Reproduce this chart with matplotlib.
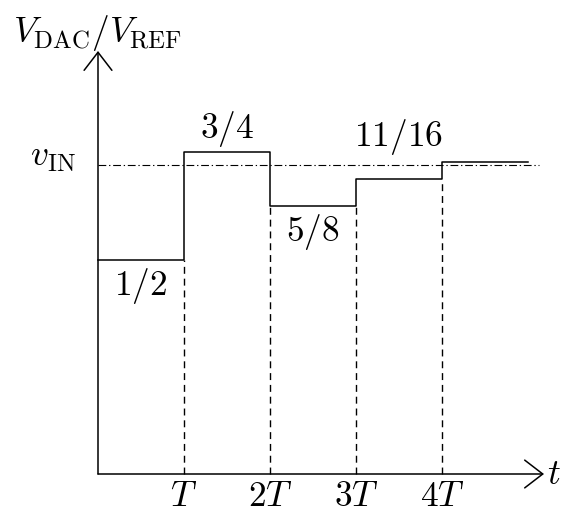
import matplotlib
matplotlib.use("Agg")
import matplotlib.pyplot as plt

plt.rcParams["mathtext.fontset"] = "cm"

# Successive DAC output levels of a 4-bit SAR conversion (fraction of V_REF)
t_edges = [0, 1, 2, 3, 4, 5]
levels = [0.5, 0.75, 0.625, 0.6875, 0.728]
level_labels = [r"$1/2$", r"$3/4$", r"$5/8$", r"$11/16$", None]
label_offsets = [-19, 17, -19, 30, 0]   # points above (+) / below (-) the level
v_in = 0.721
tick_pos = [1, 2, 3, 4]
tick_labels = [r"$T$", r"$2T$", r"$3T$", r"$4T$"]

W, H = 563, 513
x0_px, y0_px = 98, 474      # origin in pixels (from top-left)
px_per_t, px_per_v = 86, 429

fig = plt.figure(figsize=(W / 100, H / 100), dpi=100)
ax = fig.add_axes([0, 0, 1, 1])
ax.set_xlim(-x0_px / px_per_t, (W - x0_px) / px_per_t)
ax.set_ylim(-(H - y0_px) / px_per_v, y0_px / px_per_v)
ax.axis("off")

fs = 25.5
lw = 1.1

# axes with open arrow heads
t_max = (544 - x0_px) / px_per_t
v_max = (y0_px - 51) / px_per_v
arrow = dict(arrowstyle="->,head_length=0.65,head_width=0.5", lw=lw,
             color="black", mutation_scale=20, shrinkA=0, shrinkB=0)
ax.annotate("", xy=(t_max, 0), xytext=(0, 0), arrowprops=arrow)
ax.annotate("", xy=(0, v_max), xytext=(0, 0), arrowprops=arrow)

# staircase
ax.step(t_edges, levels + [levels[-1]], where="post", color="black", lw=lw)

# dashed markers at each clock edge
for i, t in enumerate(tick_pos):
    top = min(levels[i], levels[i + 1])
    ax.plot([t, t], [0, top], color="black", lw=1.0, dashes=(5, 3.5))

# input voltage reference line
ax.plot([0, (539 - x0_px) / px_per_t], [v_in, v_in], color="black", lw=0.8,
        dashes=(7, 2.5, 1.2, 2.5))

# level annotations
for i, lab in enumerate(level_labels):
    if lab is None:
        continue
    ax.annotate(lab, xy=(t_edges[i] + 0.5, levels[i]), xytext=(0, label_offsets[i]),
                textcoords="offset points", ha="center", va="center", fontsize=fs)

for t, lab in zip(tick_pos, tick_labels):
    ax.annotate(lab, xy=(t, 0), xytext=(0, -15.5), textcoords="offset points",
                ha="center", va="center", fontsize=fs)

ax.annotate(r"$t$", xy=(t_max, 0), xytext=(2, 0), textcoords="offset points",
            ha="left", va="center", fontsize=fs)
ax.annotate(r"$v_{\mathrm{IN}}$", xy=(0, v_in), xytext=(-16, -1),
            textcoords="offset points", ha="right", va="baseline", fontsize=fs)
ax.text(0, (y0_px - 33) / px_per_v, r"$V_{\mathrm{DAC}}/V_{\mathrm{REF}}$",
        ha="center", va="center", fontsize=fs)

fig.savefig("out.png", dpi=100)
